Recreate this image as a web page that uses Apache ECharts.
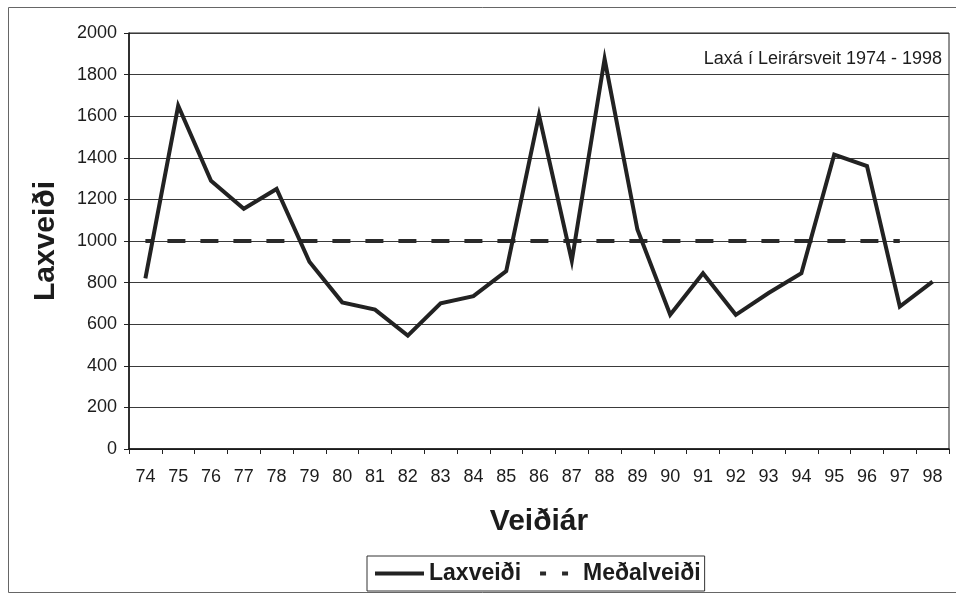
<!DOCTYPE html>
<html>
<head>
<meta charset="utf-8">
<script src="https://cdn.jsdelivr.net/npm/echarts@6/dist/echarts.min.js"></script>
<style>
html,body{margin:0;padding:0;background:#fff;}
#chart{width:956px;height:594px;}
</style>
</head>
<body>
<div id="chart"></div>
<script>
// Data
var years = ['74','75','76','77','78','79','80','81','82','83','84','85','86','87','88','89','90','91','92','93','94','95','96','97','98'];
var laxveidi = [820,1650,1290,1155,1250,900,705,670,545,700,735,855,1605,905,1875,1055,645,845,645,750,845,1415,1360,685,805];
var medalveidi = [1000,1000,1000,1000,1000,1000,1000,1000,1000,1000,1000,1000,1000,1000,1000,1000,1000,1000,1000,1000,1000,1000,1000,1000,null];
var yTicks = [0,200,400,600,800,1000,1200,1400,1600,1800,2000];

var FONT = "'Liberation Sans', Arial, sans-serif";
var INK = '#1c1c1c';

var chart = echarts.init(document.getElementById('chart'), null, {renderer:'canvas'});
chart.setOption({
  backgroundColor: '#ffffff',
  animation: false,
  textStyle: {fontFamily: FONT, color: INK},
  graphic: [
    {type:'rect', shape:{x:8.5, y:7.5, width:960, height:585}, style:{fill:'none', stroke:'#666', lineWidth:1}, silent:true},
    {type:'text', right: 14, top: 50, style:{text:'Laxá í Leirársveit 1974 - 1998', font:'18px ' + FONT, fill: INK}}
  ],
  grid: {left:129, right:7, top:33, bottom:145, show:true, borderColor:'#222', borderWidth:1},
  legend: {
    left: 367, top: 556,
    orient: 'horizontal',
    itemWidth: 49, itemHeight: 14, itemGap: 6,
    padding: [6, 4, 6, 6],
    borderColor: '#333', borderWidth: 1,
    textStyle: {fontFamily: FONT, fontSize: 23, fontWeight: 'bold', color: INK},
    itemStyle: {opacity: 0},
    data: [
      {name:'Laxveiði', itemStyle:{opacity:0}, lineStyle:{type:'solid', width:4, color:'#222'}},
      {name:'Meðalveiði', itemStyle:{opacity:0}, lineStyle:{type:[6,16], width:4, color:'#2a2a2a'}}
    ]
  },
  xAxis: {
    type: 'category',
    data: years,
    boundaryGap: true,
    name: 'Veiðiár',
    nameLocation: 'middle',
    nameGap: 58,
    nameTextStyle: {fontFamily: FONT, fontSize: 30, fontWeight: 'bold', color: INK},
    axisLine: {show:true, lineStyle:{color:'#111', width:1.5}},
    axisTick: {show:true, inside:false, length:5, alignWithLabel:false, lineStyle:{color:'#222'}},
    axisLabel: {fontFamily: FONT, fontSize: 18, color: INK, margin: 19},
    splitLine: {show:false}
  },
  yAxis: {
    type: 'value',
    min: 0, max: 2000, interval: 200,
    name: 'Laxveiði',
    nameLocation: 'middle',
    nameGap: 68,
    nameRotate: 90,
    nameTextStyle: {fontFamily: FONT, fontSize: 30, fontWeight: 'bold', color: INK},
    axisLine: {show:true, lineStyle:{color:'#111', width:1.5}},
    axisTick: {show:true, inside:false, length:5, lineStyle:{color:'#222'}},
    axisLabel: {fontFamily: FONT, fontSize: 18, color: INK, margin: 12,
      formatter: function(v){ return yTicks.indexOf(v) >= 0 ? String(v) : ''; }},
    splitLine: {show:true, lineStyle:{color:'#3a3a3a', width:1}}
  },
  series: [
    {
      name: 'Laxveiði',
      type: 'line',
      data: laxveidi,
      symbol: 'none',
      showSymbol: false,
      lineStyle: {color:'#222', width:4, join:'miter', miterLimit:10},
      itemStyle: {color:'#222'},
      z: 3
    },
    {
      name: 'Meðalveiði',
      type: 'line',
      data: medalveidi,
      symbol: 'none',
      showSymbol: false,
      connectNulls: false,
      lineStyle: {color:'#2a2a2a', width:4, type:[18,15], dashOffset:11},
      itemStyle: {color:'#2a2a2a'},
      z: 2
    }
  ]
});
</script>
</body>
</html>
